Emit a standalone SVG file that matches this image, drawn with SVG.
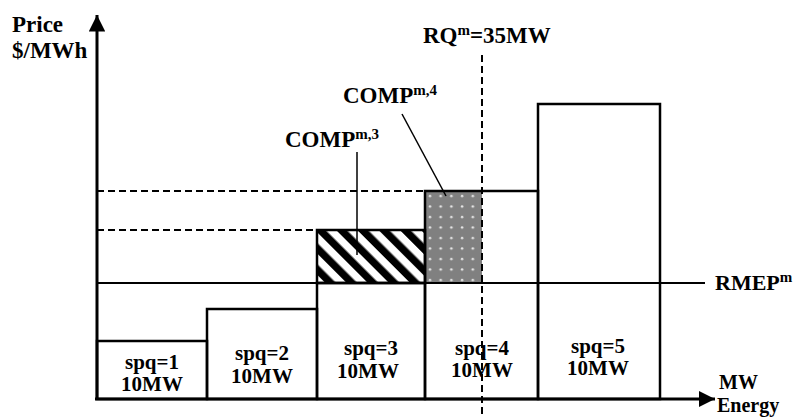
<svg xmlns="http://www.w3.org/2000/svg" width="799" height="417" viewBox="0 0 799 417">
<style>
text{font-family:"Liberation Serif","Times New Roman",serif;font-weight:bold;fill:#000}
.lbl{font-size:23px}
.sup{font-size:15px}
.box{fill:none;stroke:#000;stroke-width:2.5}
.bl{font-size:21px;text-anchor:middle}
.dash{fill:none;stroke:#000;stroke-width:2;stroke-dasharray:7 4}
.lead{fill:none;stroke:#000;stroke-width:1.5}
.ax{font-size:20px}
</style>
<defs>
<pattern id="hatch" width="15" height="15" patternUnits="userSpaceOnUse" patternTransform="rotate(-45)">
<rect x="0" y="0" width="15" height="15" fill="#fff"/>
<rect x="0" y="0" width="7.5" height="15" fill="#000"/>
</pattern>
<pattern id="dots" width="10.7" height="10.5" patternUnits="userSpaceOnUse" x="425" y="191">
<rect x="0" y="0" width="10.7" height="10.5" fill="#808080"/>
<circle cx="5" cy="5" r="1.3" fill="#e8e8e8"/>
</pattern>
<marker id="arr" viewBox="0 0 10 10" refX="10" refY="5" markerWidth="5.5" markerHeight="5.5" markerUnits="strokeWidth" orient="auto">
<path d="M0,0 L10,5 L0,10 z" fill="#000"/>
</marker>
</defs>
<g id="fills">
<rect x="317" y="230" width="108" height="53" fill="url(#hatch)"/>
<rect x="425" y="191" width="57" height="92" fill="url(#dots)"/>
</g>
<g id="bar1"><rect class="box" x="97" y="341" width="110" height="58"/>
<text class="bl" x="152" y="369">spq=1</text><text class="bl" x="152" y="391">10MW</text></g>
<g id="bar2"><rect class="box" x="207" y="309" width="110" height="90"/>
<text class="bl" x="262" y="360">spq=2</text><text class="bl" x="262" y="383">10MW</text></g>
<g id="bar3"><rect class="box" x="317" y="283" width="108" height="116"/>
<rect class="box" x="317" y="230" width="108" height="53"/>
<text class="bl" x="371" y="355">spq=3</text><text class="bl" x="368" y="378">10MW</text></g>
<g id="bar4"><rect class="box" x="425" y="191" width="113" height="208"/>
<text class="bl" x="482" y="355">spq=4</text><text class="bl" x="482" y="377">10MW</text></g>
<g id="bar5"><rect class="box" x="538" y="104" width="122" height="295"/>
<text class="bl" x="598" y="353">spq=5</text><text class="bl" x="598" y="375">10MW</text></g>
<g id="rmep">
<line x1="97" y1="283" x2="705" y2="283" stroke="#000" stroke-width="2"/>
<text class="lbl" x="715" y="290" style="font-size:22px">RMEP<tspan class="sup" dy="-8">m</tspan></text>
</g>
<g id="rq">
<line class="dash" x1="482" y1="55" x2="482" y2="417"/>
<text class="lbl" x="423" y="43">RQ<tspan class="sup" dy="-8">m</tspan><tspan dy="8">=35MW</tspan></text>
</g>
<g id="guides">
<line class="dash" x1="97" y1="191" x2="425" y2="191"/>
<line class="dash" x1="97" y1="230" x2="317" y2="230"/>
</g>
<g id="axes">
<line x1="97" y1="400" x2="97" y2="15" stroke="#000" stroke-width="3" marker-end="url(#arr)"/>
<line x1="95" y1="399" x2="715" y2="399" stroke="#000" stroke-width="3" marker-end="url(#arr)"/>
<text class="lbl" x="12" y="32">Price</text>
<text class="lbl" x="12" y="58">$/MWh</text>
<text class="ax" x="719" y="389">MW</text>
<text class="ax" x="717" y="412">Energy</text>
</g>
<g id="connectors">
<line class="lead" x1="357" y1="152" x2="357" y2="255"/>
<line class="lead" x1="402" y1="114" x2="446" y2="196"/>
</g>
<g id="comp3"><text class="lbl" x="285" y="147">COMP<tspan class="sup" dy="-8">m,3</tspan></text></g>
<g id="comp4"><text class="lbl" x="343" y="103">COMP<tspan class="sup" dy="-8">m,4</tspan></text></g>
</svg>
